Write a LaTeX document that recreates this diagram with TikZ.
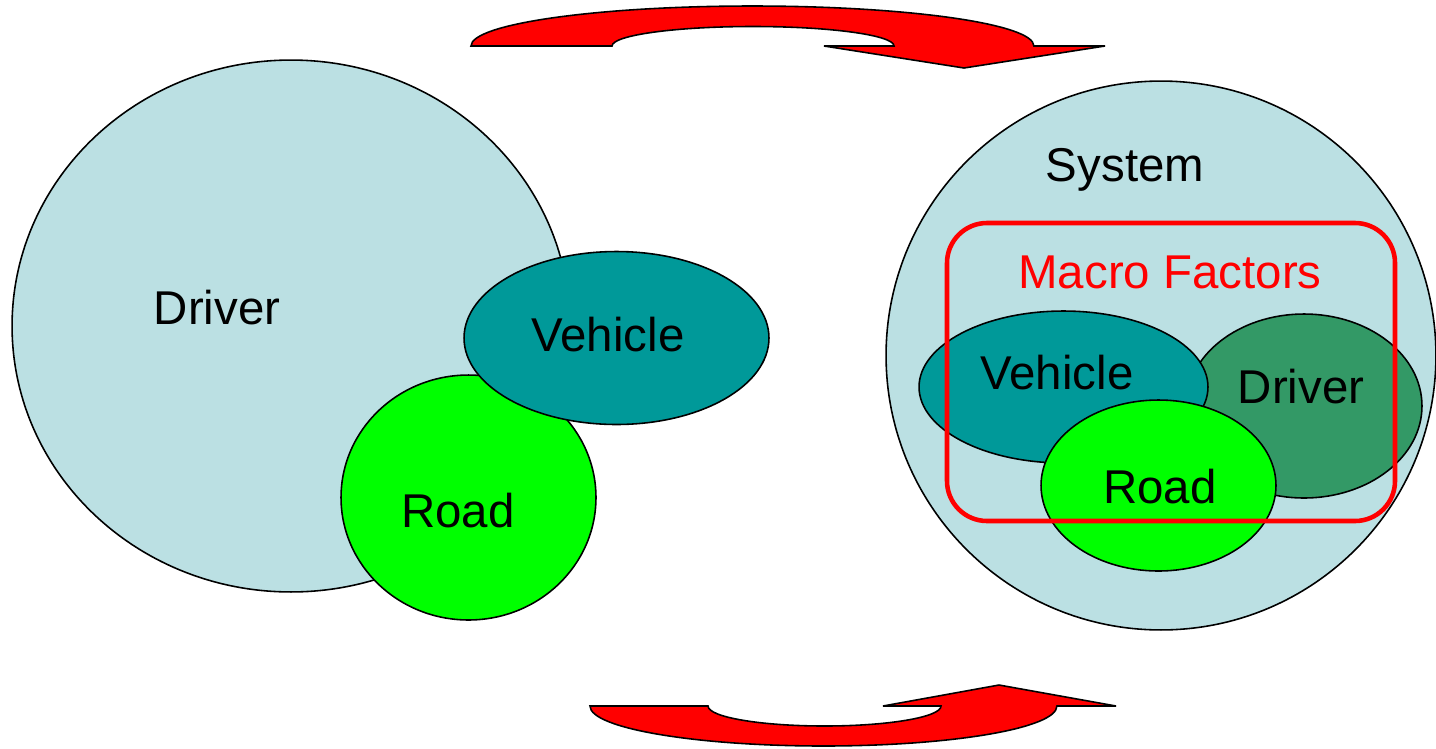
\documentclass[tikz,border=0pt]{standalone}
\usepackage{fontspec}
\setmainfont{Liberation Sans}
\usetikzlibrary{shapes.geometric}
\definecolor{lightblue}{HTML}{BBE0E3}
\definecolor{teal2}{HTML}{009999}
\definecolor{green2}{HTML}{00FF00}
\definecolor{dgreen}{HTML}{339966}
\definecolor{red2}{HTML}{FF0000}
\tikzset{
  blob/.style={ellipse, draw=black, line width=0.9pt, inner sep=0pt, outer sep=0pt},
  lbl/.style={anchor=base, inner sep=0pt, font=\fontsize{27}{32}\selectfont},
  bigarrow/.style={fill=red2, draw=black, line width=0.9pt, line join=miter},
}
\begin{document}
\begin{tikzpicture}[x=0.02cm, y=-0.02cm]
\useasboundingbox (0,0) rectangle (1436,748);
% left cluster
\node[blob, fill=lightblue, minimum width=11.16cm, minimum height=10.64cm] (driverL) at (291,326) {};
\node[blob, fill=green2, minimum width=5.1cm, minimum height=4.9cm] (roadL) at (468.5,497.5) {};
\node[blob, fill=teal2, minimum width=6.1cm, minimum height=3.46cm] (vehicleL) at (616.5,338) {};
\node[lbl] (tDriverL) at (217,324) {Driver};
\node[lbl] (tVehicleL) at (608,351) {Vehicle};
\node[lbl] (tRoadL) at (458,527) {Road};
% right cluster
\node[blob, fill=lightblue, minimum width=11cm, minimum height=10.98cm] (system) at (1161,355.5) {};
\node[blob, fill=dgreen, minimum width=4.72cm, minimum height=3.68cm] (driverR) at (1304,406) {};
\node[blob, fill=teal2, minimum width=5.78cm, minimum height=3.04cm] (vehicleR) at (1063.5,387) {};
\node[blob, fill=green2, minimum width=4.7cm, minimum height=3.42cm] (roadR) at (1158.5,485.5) {};
\draw[red2, line width=2.6pt, rounded corners=0.8cm] (947,223) rectangle (1395,521);
\node[lbl] (tSystem) at (1125,181) {System};
\node[lbl, text=red2] (tMacro) at (1170,288) {Macro Factors};
\node[lbl] (tVehicleR) at (1057,389) {Vehicle};
\node[lbl] (tDriverR) at (1301,403) {Driver};
\node[lbl] (tRoadR) at (1160,503) {Road};
% top curved arrow
\draw[bigarrow] (471,46) arc[start angle=180, end angle=0, x radius=5.63cm, y radius=0.8cm]
  -- (1105,46) -- (964,68) -- (824,46) -- (894,46)
  arc[start angle=0, end angle=180, x radius=2.82cm, y radius=0.39cm] -- cycle;
% bottom curved arrow
\draw[bigarrow] (590,706) arc[start angle=180, end angle=360, x radius=4.67cm, y radius=0.8cm]
  -- (1116,706) -- (999,685) -- (883,706) -- (941,706)
  arc[start angle=360, end angle=180, x radius=2.33cm, y radius=0.4cm] -- cycle;
\end{tikzpicture}
\end{document}
